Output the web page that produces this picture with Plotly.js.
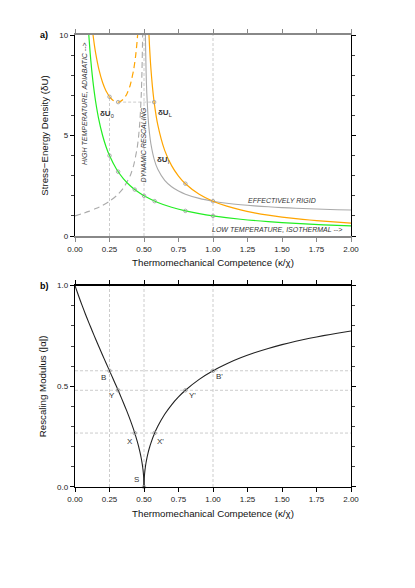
<!DOCTYPE html>
<html>
<head>
<meta charset="utf-8">
<script src="https://cdn.plot.ly/plotly-3.0.1.min.js"></script>
<style>html,body{margin:0;padding:0;background:#fff}#chart{width:415px;height:588px}</style>
</head>
<body>
<div id="chart"></div>
<script>
// ---------- DATA ----------
// Panel a: stress-energy density curves
const greenX = [0.1,0.11,0.12,0.13,0.14,0.15,0.17,0.2,0.225,0.25,0.3,0.35,0.4,0.45,0.5,0.6,0.7,0.8,0.9,1.0,1.2,1.4,1.6,1.8,2.0];
const greenY = [10,9.091,8.333,7.692,7.143,6.667,5.882,5,4.444,4,3.333,2.857,2.5,2.222,2,1.667,1.429,1.25,1.111,1,0.833,0.714,0.625,0.556,0.5];

const grayDashX = [0,0.05,0.1,0.15,0.2,0.25,0.3,0.35,0.4,0.425,0.45,0.46,0.47,0.48,0.485,0.49,0.4903];
const grayDashY = [1,1.106,1.225,1.363,1.527,1.732,2.0,2.380,3.0,3.512,4.359,4.899,5.686,7.0,8.103,9.95,10.10];

const grayX = [0.5098,0.51,0.515,0.52,0.53,0.54,0.55,0.575,0.6,0.65,0.7,0.75,0.8,0.9,1.0,1.1,1.2,1.3,1.4,1.5,1.6,1.7,1.8,1.9,2.0];
const grayY = [10.15,10.05,8.224,7.141,5.859,5.099,4.583,3.786,3.317,2.769,2.449,2.236,2.082,1.871,1.732,1.633,1.558,1.5,1.453,1.414,1.382,1.354,1.330,1.309,1.291];

const orangeSolidLX = [0.128,0.13,0.14,0.15,0.175,0.2,0.225,0.25];
const orangeSolidLY = [10.15,10.04,9.524,9.085,8.235,7.637,7.216,6.928];

const orangeDashX = [0.25,0.275,0.3,0.3125,0.325,0.35,0.375,0.4,0.425,0.44,0.45,0.455];
const orangeDashY = [6.928,6.749,6.667,6.661,6.680,6.801,7.055,7.5,8.265,8.996,9.687,10.12];

const orangeRX = [0.535,0.54,0.545,0.55,0.56,0.5735,0.6,0.65,0.7,0.75,0.8,0.9,1.0,1.1,1.2,1.3,1.4,1.5,1.6,1.7,1.8,1.9,2.0];
const orangeRY = [10.16,9.443,8.843,8.333,7.506,6.664,5.528,4.259,3.5,2.981,2.602,2.079,1.732,1.484,1.299,1.154,1.038,0.943,0.864,0.797,0.739,0.689,0.645];

// marked points (panel a)
const markGreenX = [0.25,0.3125,0.433,0.5,0.577,0.8,1.0];
const markGreenY = [4.0,3.2,2.309,2.0,1.733,1.25,1.0];
const markOrangeX = [0.25,0.3125,0.5735,0.8,1.0];
const markOrangeY = [6.928,6.661,6.661,2.602,1.732];

// Panel b: rescaling modulus |alpha|
const alphaLX = [0,0.025,0.05,0.075,0.1,0.125,0.15,0.175,0.2,0.225,0.25,0.275,0.3,0.325,0.35,0.375,0.4,0.425,0.45,0.46,0.47,0.48,0.485,0.49,0.495,0.4975,0.499,0.5];
const alphaLY = [1,0.951,0.9045,0.8597,0.8165,0.7746,0.7338,0.6939,0.6547,0.6159,0.5774,0.5388,0.5,0.4606,0.4201,0.378,0.3333,0.2847,0.2294,0.2041,0.1759,0.1429,0.1234,0.1005,0.0709,0.0501,0.0316,0];
const alphaRX = [0.5,0.501,0.5025,0.505,0.51,0.515,0.52,0.53,0.54,0.55,0.575,0.6,0.65,0.7,0.75,0.8,0.9,1.0,1.1,1.2,1.3,1.4,1.5,1.6,1.7,1.8,1.9,2.0];
const alphaRY = [0,0.0316,0.0499,0.0705,0.0995,0.1216,0.14,0.1707,0.1961,0.2182,0.2641,0.3015,0.3612,0.4082,0.4472,0.4804,0.5345,0.5774,0.6124,0.6417,0.6667,0.6882,0.7071,0.7237,0.7385,0.7518,0.7638,0.7746];

const ptLabels = ["B","Y","X","S","X'","Y'","B'"];
const ptX = [0.25,0.3125,0.433,0.5,0.577,0.8,1.0];
const ptA = [0.5774,0.4804,0.268,0,0.268,0.4804,0.5774];

const xTicks = [0,0.25,0.5,0.75,1.0,1.25,1.5,1.75,2.0];
const yTicksA = [0,5,10];
const yTickTextA = ["0","5","10"];
const yTicksB = [0,0.5,1.0];
const yTickTextB = ["0.0","0.5","1.0"];

// ---------- STYLE ----------
const FONT = "Liberation Sans, Arial, sans-serif";
const GREEN = "#22ee22", ORANGE = "#ffa500", GRAY = "#aaaaaa", GRID = "#cccccc";

const traces = [];
function line(x, y, color, dash, xa, ya, w) {
  traces.push({x, y, type: "scatter", mode: "lines", xaxis: xa, yaxis: ya,
    line: {color, width: w || 1.1, dash: dash || "solid", shape: "spline", smoothing: 0.6},
    hoverinfo: "skip", showlegend: false, cliponaxis: true});
}
function marks(x, y, xa, ya) {
  traces.push({x, y, type: "scatter", mode: "markers", xaxis: xa, yaxis: ya,
    marker: {symbol: "circle-open", size: 3.5, color: "#999", line: {width: 0.8, color: "#999"}},
    hoverinfo: "skip", showlegend: false, cliponaxis: false});
}

// Panel a
line(grayDashX, grayDashY, GRAY, "6px,4px", "x", "y", 1.1);
line(grayX, grayY, GRAY, "solid", "x", "y", 1.1);
line(greenX, greenY, GREEN, "solid", "x", "y", 1.2);
line(orangeSolidLX, orangeSolidLY, ORANGE, "solid", "x", "y", 1.2);
line(orangeDashX, orangeDashY, ORANGE, "6px,4px", "x", "y", 1.2);
line(orangeRX, orangeRY, ORANGE, "solid", "x", "y", 1.2);
marks(markGreenX, markGreenY, "x", "y");
marks(markOrangeX, markOrangeY, "x", "y");

// Panel b
line(alphaLX, alphaLY, "#222", "solid", "x2", "y2", 1.1);
line(alphaRX, alphaRY, "#222", "solid", "x2", "y2", 1.1);
marks(ptX, ptA, "x2", "y2");

// Reference (dashed) lines
const dashLine = {color: GRID, width: 1, dash: "3px,2px"};
const shapes = [
  // panel a verticals
  {type: "line", xref: "x", yref: "y", x0: ptX[0], x1: ptX[0], y0: 0, y1: markOrangeY[0], line: dashLine, layer: "below"},
  {type: "line", xref: "x", yref: "y", x0: ptX[3], x1: ptX[3], y0: 0, y1: 10, line: dashLine, layer: "below"},
  {type: "line", xref: "x", yref: "y", x0: ptX[6], x1: ptX[6], y0: 0, y1: 10, line: dashLine, layer: "below"},
  {type: "line", xref: "x", yref: "y", x0: markOrangeX[1], x1: markOrangeX[2], y0: markOrangeY[1], y1: markOrangeY[2], line: dashLine, layer: "below"},
  // panel b verticals
  {type: "line", xref: "x2", yref: "y2", x0: ptX[0], x1: ptX[0], y0: 0, y1: 1, line: dashLine, layer: "below"},
  {type: "line", xref: "x2", yref: "y2", x0: ptX[3], x1: ptX[3], y0: 0, y1: 1, line: dashLine, layer: "below"},
  {type: "line", xref: "x2", yref: "y2", x0: ptX[6], x1: ptX[6], y0: 0, y1: 1, line: dashLine, layer: "below"},
  // panel b horizontals
  {type: "line", xref: "x2", yref: "y2", x0: 0, x1: 2, y0: ptA[0], y1: ptA[0], line: dashLine, layer: "below"},
  {type: "line", xref: "x2", yref: "y2", x0: 0, x1: 2, y0: ptA[1], y1: ptA[1], line: dashLine, layer: "below"},
  {type: "line", xref: "x2", yref: "y2", x0: 0, x1: 2, y0: ptA[2], y1: ptA[2], line: dashLine, layer: "below"}
];

const tf = {family: FONT, size: 8, color: "#222"};
const lf = {family: FONT, size: 8, color: "#333"};
const itf = {family: FONT, size: 7, color: "#333"};
function ann(text, x, y, xr, yr, font, extra) {
  return Object.assign({text, x, y, xref: xr, yref: yr, showarrow: false, font, xanchor: "center", yanchor: "middle"}, extra || {});
}
const annotations = [
  ann("<b>a)</b>", -0.135, 1.0, "paper", "paper", {family: FONT, size: 9, color: "#000"}, {xanchor: "left"}),
  ann("<b>b)</b>", -0.135, 0.4454, "paper", "paper", {family: FONT, size: 9, color: "#000"}, {xanchor: "left"}),
  ann("<b>δU</b><sub>0</sub>", 0.17, 6.05, "x", "y", lf, {xanchor: "left"}),
  ann("<b>δU</b><sub>L</sub>", 0.585, 6.13, "x", "y", lf, {xanchor: "left"}),
  ann("<b>δU</b><sub>I</sub>", 0.578, 3.8, "x", "y", lf, {xanchor: "left"}),
  ann("<i>HIGH TEMPERATURE, ADIABATIC --></i>", 0.07, 6.6, "x", "y", itf, {textangle: -90}),
  ann("<i>DYNAMIC RESCALING</i>", 0.5, 4.5, "x", "y", itf, {textangle: -90}),
  ann("<i>EFFECTIVELY RIGID</i>", 1.5, 1.79, "x", "y", itf),
  ann("<i>LOW TEMPERATURE, ISOTHERMAL --></i>", 1.465, 0.33, "x", "y", itf),
  ann(ptLabels[0], 0.21, 0.545, "x2", "y2", lf),
  ann(ptLabels[1], 0.27, 0.453, "x2", "y2", lf),
  ann(ptLabels[2], 0.40, 0.228, "x2", "y2", lf),
  ann(ptLabels[3], 0.445, 0.035, "x2", "y2", lf),
  ann(ptLabels[4], 0.62, 0.228, "x2", "y2", lf),
  ann(ptLabels[5], 0.85, 0.453, "x2", "y2", lf),
  ann(ptLabels[6], 1.05, 0.547, "x2", "y2", lf)
];

const titleFont = {family: FONT, size: 9.7, color: "#111"};
function xax(anchor, lineColor, lw) {
  return {anchor, range: [0, 2], tickvals: xTicks, tickformat: ".2f", ticks: "outside", ticklen: 4,
    tickcolor: lineColor, tickwidth: 1, mirror: "ticks", showline: true, linecolor: lineColor, linewidth: lw,
    showgrid: false, zeroline: false, tickfont: tf, fixedrange: true,
    title: {text: "Thermomechanical Competence (κ/χ)", font: titleFont, standoff: 7}};
}
function yax(anchor, domain, range, vals, text, minorStep, title) {
  return {anchor, domain, range, tickvals: vals, ticktext: text, ticks: "outside", ticklen: 4,
    tickcolor: "#000", tickwidth: 1, mirror: "ticks", showline: true, linecolor: "#000", linewidth: 1.2,
    minor: {dtick: minorStep, tick0: 0, ticks: "outside", ticklen: 3, tickcolor: "#444", tickwidth: 1, showgrid: false},
    showgrid: false, zeroline: false, tickfont: tf, fixedrange: true,
    title: {text: title, font: titleFont, standoff: 8}};
}

const layout = {
  width: 415, height: 588,
  margin: {l: 75, r: 64, t: 35, b: 101},
  paper_bgcolor: "#fff", plot_bgcolor: "#fff",
  showlegend: false,
  xaxis: xax("y", "#888", 2),
  yaxis: yax("x", [0.5553, 1], [0, 10], yTicksA, yTickTextA, 1, "Stress−Energy Density (δU)"),
  xaxis2: xax("y2", "#000", 1.2),
  yaxis2: yax("x2", [0, 0.4454], [0, 1], yTicksB, yTickTextB, 0.1, "Rescaling Modulus (|α|)"),
  shapes, annotations,
  font: {family: FONT}
};

Plotly.newPlot("chart", traces, layout, {staticPlot: true, displayModeBar: false});
</script>
</body>
</html>
